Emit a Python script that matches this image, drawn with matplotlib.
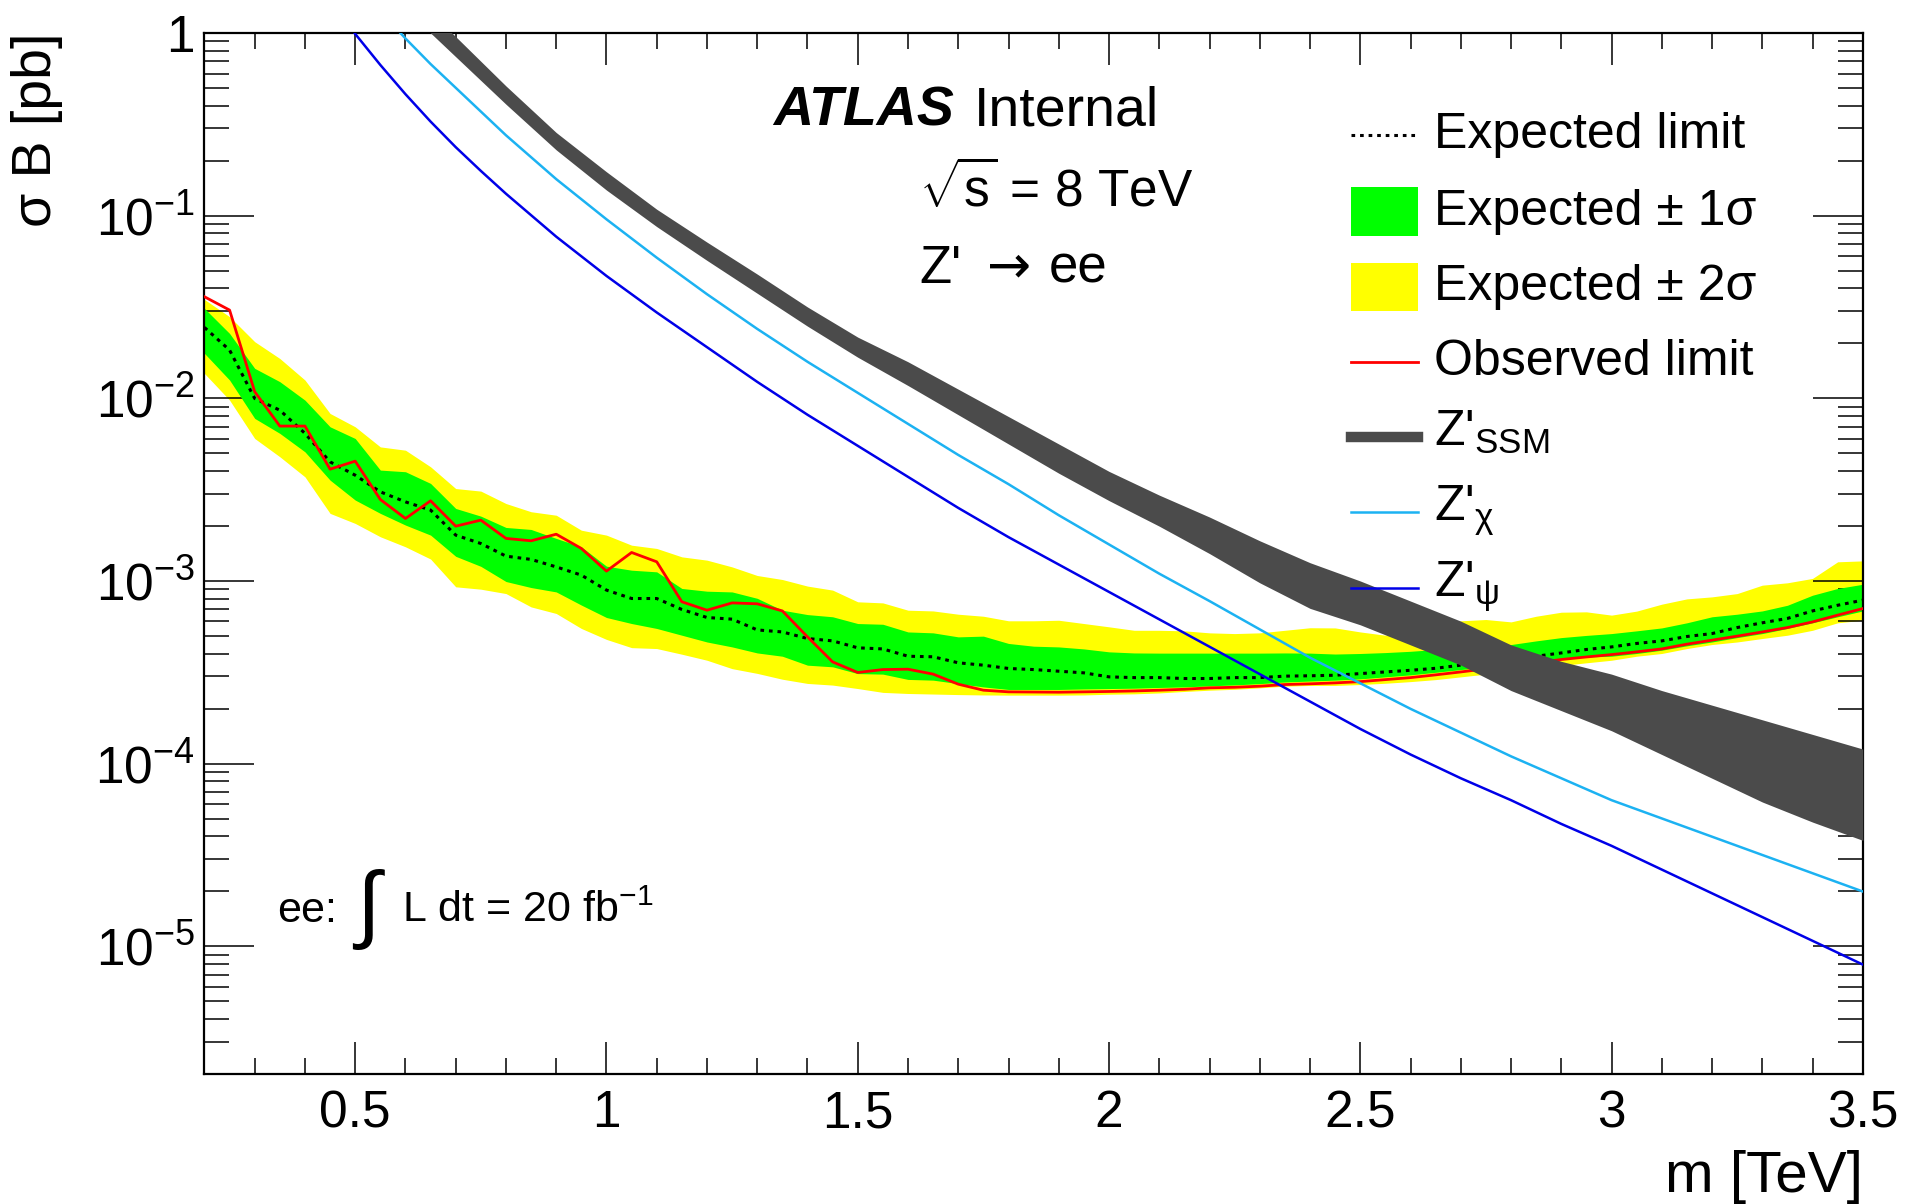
import numpy as np
import matplotlib
matplotlib.use('Agg')
import matplotlib.pyplot as plt
from matplotlib.ticker import MultipleLocator, LogLocator, FuncFormatter, NullFormatter
from matplotlib.lines import Line2D
from matplotlib.patches import Rectangle

plt.rcParams['font.family'] = ['Liberation Sans', 'DejaVu Sans']
plt.rcParams['mathtext.fontset'] = 'custom'
plt.rcParams['mathtext.rm'] = 'Liberation Sans'
plt.rcParams['mathtext.it'] = 'Liberation Sans:italic'
plt.rcParams['mathtext.bf'] = 'Liberation Sans:bold'
plt.rcParams['mathtext.sf'] = 'Liberation Sans'

# values, stored as log10(sigma B / pb)
mass = [0.20, 0.25, 0.30, 0.35, 0.40, 0.45, 0.50, 0.55, 0.60, 0.65,
        0.70, 0.75, 0.80, 0.85, 0.90, 0.95, 1.00, 1.05, 1.10, 1.15,
        1.20, 1.25, 1.30, 1.35, 1.40, 1.45, 1.50, 1.55, 1.60, 1.65,
        1.70, 1.75, 1.80, 1.85, 1.90, 1.95, 2.00, 2.05, 2.10, 2.15,
        2.20, 2.25, 2.30, 2.35, 2.40, 2.45, 2.50, 2.55, 2.60, 2.65,
        2.70, 2.75, 2.80, 2.85, 2.90, 2.95, 3.00, 3.05, 3.10, 3.15,
        3.20, 3.25, 3.30, 3.35, 3.40, 3.45, 3.50]

obs_log = [-1.444, -1.517, -1.964, -2.152, -2.152, -2.388, -2.344, -2.554, -2.658, -2.561,
           -2.700, -2.667, -2.767, -2.780, -2.744, -2.822, -2.946, -2.844, -2.895, -3.114,
           -3.160, -3.120, -3.125, -3.164, -3.306, -3.443, -3.501, -3.485, -3.483, -3.510,
           -3.565, -3.598, -3.607, -3.608, -3.609, -3.607, -3.605, -3.602, -3.598, -3.593,
           -3.585, -3.582, -3.576, -3.567, -3.563, -3.558, -3.551, -3.540, -3.529, -3.514,
           -3.498, -3.481, -3.463, -3.448, -3.430, -3.416, -3.403, -3.388, -3.372, -3.346,
           -3.324, -3.302, -3.279, -3.255, -3.224, -3.187, -3.151]

exp_log = [-1.612, -1.736, -2.001, -2.065, -2.192, -2.348, -2.421, -2.512, -2.567, -2.612,
           -2.749, -2.795, -2.864, -2.882, -2.923, -2.968, -3.050, -3.096, -3.096, -3.156,
           -3.200, -3.209, -3.268, -3.279, -3.315, -3.328, -3.366, -3.372, -3.412, -3.415,
           -3.448, -3.461, -3.479, -3.485, -3.494, -3.503, -3.525, -3.529, -3.529, -3.534,
           -3.534, -3.529, -3.529, -3.521, -3.519, -3.516, -3.507, -3.498, -3.489, -3.478,
           -3.461, -3.443, -3.430, -3.412, -3.394, -3.375, -3.361, -3.342, -3.328, -3.304,
           -3.288, -3.255, -3.229, -3.205, -3.164, -3.133, -3.105]

up1_log = [-1.508, -1.645, -1.836, -1.909, -2.010, -2.156, -2.220, -2.393, -2.402, -2.466,
           -2.603, -2.645, -2.707, -2.718, -2.767, -2.813, -2.919, -2.941, -2.950, -3.041,
           -3.056, -3.060, -3.095, -3.160, -3.184, -3.196, -3.233, -3.237, -3.279, -3.284,
           -3.306, -3.302, -3.342, -3.357, -3.361, -3.372, -3.388, -3.394, -3.395, -3.395,
           -3.395, -3.395, -3.395, -3.394, -3.395, -3.400, -3.397, -3.392, -3.385, -3.375,
           -3.366, -3.357, -3.348, -3.328, -3.310, -3.298, -3.288, -3.273, -3.257, -3.229,
           -3.196, -3.182, -3.164, -3.133, -3.078, -3.041, -3.018]

dn1_log = [-1.754, -1.900, -2.110, -2.192, -2.293, -2.448, -2.557, -2.630, -2.694, -2.749,
           -2.865, -2.920, -3.003, -3.036, -3.060, -3.132, -3.200, -3.233, -3.260, -3.297,
           -3.334, -3.361, -3.394, -3.412, -3.461, -3.470, -3.507, -3.510, -3.539, -3.543,
           -3.562, -3.580, -3.594, -3.594, -3.594, -3.591, -3.589, -3.587, -3.583, -3.580,
           -3.574, -3.569, -3.562, -3.553, -3.548, -3.543, -3.536, -3.525, -3.514, -3.500,
           -3.485, -3.470, -3.456, -3.443, -3.427, -3.416, -3.412, -3.397, -3.379, -3.355,
           -3.334, -3.310, -3.288, -3.260, -3.229, -3.196, -3.164]

up2_log = [-1.459, -1.553, -1.690, -1.782, -1.900, -2.083, -2.156, -2.266, -2.284, -2.375,
           -2.494, -2.508, -2.576, -2.621, -2.640, -2.722, -2.749, -2.804, -2.822, -2.868,
           -2.886, -2.923, -2.970, -2.992, -3.028, -3.050, -3.114, -3.120, -3.160, -3.164,
           -3.182, -3.193, -3.218, -3.218, -3.215, -3.233, -3.251, -3.270, -3.270, -3.273,
           -3.284, -3.288, -3.284, -3.270, -3.256, -3.257, -3.279, -3.297, -3.279, -3.248,
           -3.218, -3.211, -3.224, -3.193, -3.171, -3.169, -3.187, -3.165, -3.127, -3.098,
           -3.087, -3.069, -3.023, -3.010, -2.986, -2.895, -2.890]

dn2_log = [-1.864, -2.010, -2.220, -2.320, -2.430, -2.630, -2.685, -2.758, -2.813, -2.880,
           -3.032, -3.045, -3.069, -3.142, -3.178, -3.260, -3.320, -3.365, -3.370, -3.401,
           -3.434, -3.480, -3.506, -3.538, -3.561, -3.570, -3.589, -3.610, -3.616, -3.619,
           -3.622, -3.624, -3.625, -3.625, -3.625, -3.624, -3.620, -3.618, -3.613, -3.605,
           -3.598, -3.593, -3.585, -3.576, -3.572, -3.572, -3.567, -3.560, -3.551, -3.540,
           -3.525, -3.510, -3.498, -3.481, -3.463, -3.448, -3.434, -3.412, -3.397, -3.370,
           -3.348, -3.334, -3.315, -3.297, -3.270, -3.229, -3.215]

# theory curves
ssm_mass = [0.60, 0.65, 0.70, 0.80, 0.90, 1.00, 1.10, 1.20, 1.30, 1.40, 1.50,
            1.60, 1.70, 1.80, 1.90, 2.00, 2.10, 2.20, 2.30, 2.40, 2.50,
            2.60, 2.70, 2.80, 2.90, 3.00, 3.10, 3.20, 3.30, 3.40, 3.50]
ssm_hi_log = [0.25, 0.11, -0.02, -0.29, -0.545, -0.760, -0.965, -1.145, -1.320, -1.500, -1.665,
              -1.80, -1.95, -2.10, -2.25, -2.40, -2.53, -2.65, -2.78, -2.90, -3.00,
              -3.11, -3.22, -3.35, -3.44, -3.51, -3.60, -3.68, -3.76, -3.84, -3.92]
ssm_lo_log = [0.14, 0.00, -0.13, -0.39, -0.640, -0.860, -1.060, -1.245, -1.425, -1.605, -1.775,
              -1.93, -2.09, -2.25, -2.41, -2.56, -2.70, -2.85, -3.01, -3.15, -3.24,
              -3.35, -3.46, -3.60, -3.71, -3.82, -3.95, -4.08, -4.21, -4.32, -4.42]

chi_mass = [0.55, 0.60, 0.65, 0.70, 0.80, 0.90, 1.00, 1.10, 1.20, 1.30, 1.40,
            1.50, 1.60, 1.70, 1.80, 1.90, 2.00, 2.10, 2.20, 2.30, 2.40,
            2.50, 2.60, 2.70, 2.80, 2.90, 3.00, 3.10, 3.20, 3.30, 3.40, 3.50]
chi_log = [0.12, -0.03, -0.17, -0.30, -0.56, -0.80, -1.02, -1.23, -1.43, -1.62, -1.80,
           -1.97, -2.14, -2.31, -2.47, -2.64, -2.80, -2.96, -3.11, -3.265, -3.42,
           -3.56, -3.70, -3.83, -3.96, -4.08, -4.20, -4.30, -4.40, -4.50, -4.60, -4.70]

psi_mass = [0.45, 0.50, 0.55, 0.60, 0.65, 0.70, 0.75, 0.80, 0.90, 1.00, 1.10,
            1.20, 1.30, 1.40, 1.50, 1.60, 1.70, 1.80, 1.90, 2.00, 2.10,
            2.20, 2.30, 2.40, 2.50, 2.60, 2.70, 2.80, 2.90, 3.00, 3.10,
            3.20, 3.30, 3.40, 3.50]
psi_log = [0.18, -0.005, -0.175, -0.335, -0.485, -0.625, -0.755, -0.88, -1.115, -1.33, -1.53,
           -1.72, -1.91, -2.09, -2.26, -2.43, -2.60, -2.76, -2.91, -3.06, -3.21,
           -3.36, -3.51, -3.66, -3.81, -3.95, -4.08, -4.20, -4.33, -4.45, -4.58,
           -4.71, -4.84, -4.97, -5.10]

col_green = '#00ff00'
col_yellow = '#ffff00'
col_ssm = '#4b4b4b'
col_chi = '#1cb2f2'
col_psi = '#0000e8'


def pb(vals):
    return 10.0 ** np.array(vals)


fig = plt.figure(figsize=(19.09, 12.04), dpi=100)
ax = fig.add_axes([0.1071, 0.108, 0.8687, 0.8646])

# limit bands and lines
ax.fill_between(mass, pb(dn2_log), pb(up2_log), color=col_yellow, lw=0, zorder=1)
ax.fill_between(mass, pb(dn1_log), pb(up1_log), color=col_green, lw=0, zorder=2)
ax.plot(mass, pb(exp_log), color='black', lw=2.2, ls=(0, (1.2, 1.6)), zorder=3)
ax.plot(mass, pb(obs_log), color='red', lw=2.0, zorder=4)

# theory
ax.fill_between(ssm_mass, pb(ssm_lo_log), pb(ssm_hi_log), color=col_ssm, lw=0, zorder=5)
ax.plot(chi_mass, pb(chi_log), color=col_chi, lw=1.8, zorder=6)
ax.plot(psi_mass, pb(psi_log), color=col_psi, lw=1.8, zorder=6)

ax.set_yscale('log')
ax.set_xlim(0.2, 3.5)
ax.set_ylim(2e-6, 1)

# ticks
ax.xaxis.set_major_locator(MultipleLocator(0.5))
ax.xaxis.set_minor_locator(MultipleLocator(0.1))
ax.xaxis.set_major_formatter(FuncFormatter(lambda v, p: '%g' % v))
ax.yaxis.set_major_locator(LogLocator(base=10, numticks=20))
ax.yaxis.set_minor_locator(LogLocator(base=10, subs=np.arange(2, 10), numticks=20))
ax.yaxis.set_minor_formatter(NullFormatter())


def log_label(v, pos):
    e = int(round(np.log10(v)))
    return '1' if e == 0 else r'$10^{%d}$' % e


ax.yaxis.set_major_formatter(FuncFormatter(log_label))
ax.tick_params(which='both', direction='in', top=True, right=True, width=1.1, colors='black')
ax.tick_params(axis='x', which='major', length=23, pad=11, labelsize=37)
ax.tick_params(axis='x', which='minor', length=11.5)
ax.tick_params(axis='y', which='major', length=36, pad=7, labelsize=37)
ax.tick_params(axis='y', which='minor', length=18)
for s in ax.spines.values():
    s.set_linewidth(1.6)

ax.set_xlabel('m [TeV]', fontsize=42, loc='right')
ax.xaxis.set_label_coords(1.0, -0.073)
ax.set_ylabel('σ B [pb]', fontsize=40, loc='top')
ax.yaxis.set_label_coords(-0.085, 1.0)

# labels on the plot
ax.text(0.343, 0.911, 'ATLAS', transform=ax.transAxes, fontsize=40,
        fontweight='bold', fontstyle='italic')
ax.text(0.464, 0.911, 'Internal', transform=ax.transAxes, fontsize=40)
ax.text(0.431, 0.833, r'$\sqrt{\mathrm{s}}$ = 8 TeV', transform=ax.transAxes, fontsize=37)
ax.text(0.431, 0.760, "Z'", transform=ax.transAxes, fontsize=38)
ax.text(0.4850, 0.760, '→', transform=ax.transAxes, fontsize=38, ha='center',
        family=['DejaVu Sans'])
ax.text(0.509, 0.760, 'ee', transform=ax.transAxes, fontsize=38)
ax.text(0.044, 0.146, 'ee:', transform=ax.transAxes, fontsize=31)
ax.text(0.0987, 0.158, '∫', transform=ax.transAxes, fontsize=62, ha='center', va='center')
ax.text(0.119, 0.146, r'L dt = 20 fb$^{-1}$', transform=ax.transAxes, fontsize=31)

# legend, drawn entry by entry to keep the even ROOT spacing
leg_x0, leg_x1, leg_tx = 0.6914, 0.7318, 0.7415
leg_rows = [0.902, 0.8284, 0.756, 0.684, 0.612, 0.540, 0.467]
leg_labels = ['Expected limit', 'Expected ± 1σ', 'Expected ± 2σ', 'Observed limit',
              r"Z'$_{\mathrm{SSM}}$", r"Z'$_{\mathrm{χ}}$", r"Z'$_{\mathrm{ψ}}$"]
leg_kinds = [('line', 'black', 2.2, (0, (1.2, 1.6))), ('box', col_green), ('box', col_yellow),
             ('line', 'red', 2.0, '-'), ('line', col_ssm, 7.5, '-'),
             ('line', col_chi, 1.8, '-'), ('line', col_psi, 1.8, '-')]
for y, lab, kind in zip(leg_rows, leg_labels, leg_kinds):
    if kind[0] == 'box':
        ax.add_patch(Rectangle((leg_x0, y - 0.0235), leg_x1 - leg_x0, 0.047,
                               transform=ax.transAxes, color=kind[1], lw=0,
                               clip_on=False, zorder=7))
    else:
        ax.add_line(Line2D([leg_x0, leg_x1], [y, y], transform=ax.transAxes,
                           color=kind[1], lw=kind[2], ls=kind[3], clip_on=False, zorder=7))
    off = 0.0086 if lab.startswith('Z') else 0.0125
    ax.text(leg_tx, y - off, lab, transform=ax.transAxes, fontsize=36, zorder=7)

fig.savefig('out.png', dpi=100)
